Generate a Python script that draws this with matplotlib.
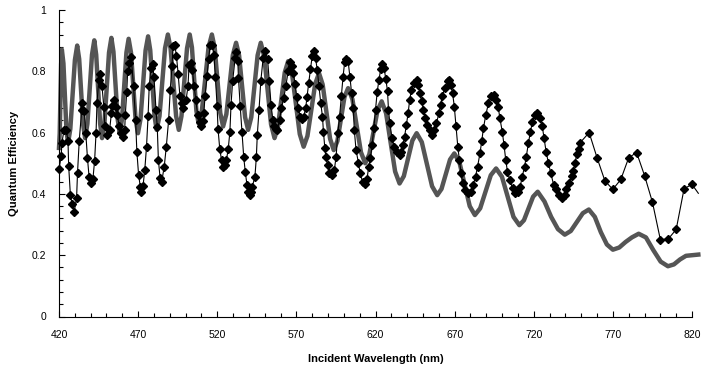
import matplotlib
matplotlib.use("Agg")
import matplotlib.pyplot as plt
from matplotlib.ticker import MultipleLocator

plt.rcParams['font.family'] = ['Liberation Sans', 'DejaVu Sans']

# black series with diamond markers (wavelength nm, quantum efficiency)
dia_wl = [420.0, 421.4, 421.8, 423.1, 424.6, 425.7, 426.1, 427.2, 428.3, 429.6,
          431.1, 431.7, 432.8, 434.3, 434.7, 436.0, 436.9, 438.0, 439.0, 440.3,
          441.4, 442.5, 443.4, 444.0, 445.1, 446.2, 447.2, 448.3, 449.0, 450.5,
          452.0, 453.1, 453.7, 454.8, 455.9, 456.9, 458.0, 459.3, 460.2, 461.5,
          461.9, 462.8, 463.4, 464.5, 465.6, 467.1, 468.4, 469.2, 470.3, 471.4,
          472.0, 473.1, 474.2, 475.3, 476.3, 477.0, 478.1, 479.1, 480.0, 481.3,
          482.1, 482.8, 483.9, 484.9, 486.5, 487.8, 489.3, 490.3, 491.4, 492.1,
          493.1, 494.2, 495.3, 496.4, 497.5, 498.5, 500.3, 501.5, 502.2, 503.3,
          504.3, 505.4, 506.5, 507.6, 508.9, 509.7, 510.8, 511.5, 512.3, 513.6,
          514.5, 515.6, 516.8, 517.9, 518.8, 519.9, 520.5, 521.6, 522.7, 523.7,
          524.8, 525.8, 526.9, 528.0, 528.7, 529.7, 531.3, 531.9, 533.0, 533.4,
          534.5, 535.6, 536.7, 537.7, 538.8, 539.7, 540.6, 541.4, 542.1, 543.8,
          544.7, 545.3, 546.4, 547.5, 549.0, 550.3, 551.8, 552.9, 554.0, 555.1,
          556.1, 557.0, 557.9, 559.4, 560.5, 562.0, 563.3, 564.8, 565.9, 567.0,
          568.1, 569.1, 570.2, 571.3, 572.4, 573.5, 574.6, 575.9, 576.7, 577.8,
          578.9, 580.0, 581.0, 582.1, 583.2, 584.3, 585.4, 586.5, 587.1, 588.0,
          588.6, 589.7, 590.8, 592.3, 594.0, 595.1, 596.2, 597.3, 598.4, 599.5,
          600.5, 601.6, 602.7, 603.8, 604.9, 606.0, 606.6, 607.7, 609.2, 610.3,
          611.8, 613.1, 614.6, 615.7, 616.8, 617.9, 618.9, 620.0, 621.1, 622.2,
          623.3, 624.4, 625.4, 626.5, 627.6, 628.2, 629.1, 630.4, 631.9, 633.4,
          635.2, 636.2, 637.3, 638.4, 639.5, 640.6, 641.6, 642.7, 644.2, 646.0,
          647.1, 648.1, 649.2, 650.3, 651.4, 652.5, 654.2, 655.7, 657.2, 658.5,
          660.1, 661.1, 662.2, 663.7, 665.5, 666.5, 667.6, 668.7, 669.8, 670.9,
          672.0, 673.0, 674.1, 675.2, 676.7, 678.5, 680.2, 681.7, 683.2, 684.5,
          686.0, 687.1, 688.2, 689.7, 691.4, 693.2, 694.7, 696.2, 697.5, 698.6,
          700.1, 701.2, 702.3, 703.4, 704.9, 706.6, 708.3, 709.8, 711.4, 712.7,
          714.2, 715.3, 716.6, 717.9, 719.2, 720.7, 722.2, 723.9, 725.4, 726.5,
          727.8, 729.3, 730.8, 732.6, 734.1, 735.9, 738.0, 739.6, 740.6, 742.4,
          743.9, 745.0, 746.1, 747.2, 748.3, 749.3, 755, 760, 765, 770,
          775, 780, 785, 790, 795, 800, 805, 810, 815, 820, 824]
dia_qe = [0.480, 0.524, 0.565, 0.607, 0.609, 0.571, 0.492, 0.396, 0.366, 0.342,
          0.385, 0.469, 0.574, 0.674, 0.698, 0.669, 0.600, 0.516, 0.456, 0.434,
          0.447, 0.508, 0.598, 0.696, 0.772, 0.792, 0.751, 0.685, 0.622, 0.592,
          0.609, 0.663, 0.687, 0.705, 0.685, 0.658, 0.620, 0.598, 0.585, 0.609,
          0.658, 0.734, 0.800, 0.827, 0.847, 0.751, 0.642, 0.538, 0.462, 0.423,
          0.407, 0.426, 0.478, 0.554, 0.655, 0.751, 0.811, 0.824, 0.783, 0.674,
          0.618, 0.511, 0.451, 0.440, 0.489, 0.554, 0.642, 0.740, 0.816, 0.882,
          0.887, 0.851, 0.791, 0.720, 0.696, 0.680, 0.707, 0.751, 0.822, 0.827,
          0.803, 0.751, 0.705, 0.658, 0.633, 0.620, 0.638, 0.663, 0.720, 0.786,
          0.840, 0.887, 0.887, 0.854, 0.783, 0.687, 0.611, 0.546, 0.511, 0.489,
          0.495, 0.511, 0.545, 0.603, 0.691, 0.767, 0.843, 0.863, 0.833, 0.778,
          0.687, 0.603, 0.522, 0.472, 0.429, 0.405, 0.396, 0.405, 0.423, 0.456,
          0.519, 0.592, 0.674, 0.767, 0.843, 0.865, 0.840, 0.767, 0.691, 0.642,
          0.620, 0.612, 0.609, 0.642, 0.680, 0.712, 0.751, 0.800, 0.829, 0.816,
          0.794, 0.759, 0.716, 0.680, 0.652, 0.644, 0.652, 0.680, 0.716, 0.762,
          0.807, 0.849, 0.865, 0.843, 0.805, 0.751, 0.696, 0.652, 0.603, 0.549,
          0.522, 0.494, 0.467, 0.462, 0.478, 0.522, 0.598, 0.652, 0.718, 0.783,
          0.829, 0.841, 0.833, 0.783, 0.729, 0.680, 0.609, 0.543, 0.502, 0.467,
          0.440, 0.432, 0.447, 0.489, 0.516, 0.560, 0.614, 0.674, 0.734, 0.773,
          0.807, 0.824, 0.811, 0.775, 0.735, 0.674, 0.631, 0.582, 0.554, 0.538,
          0.527, 0.538, 0.560, 0.587, 0.625, 0.663, 0.707, 0.740, 0.762, 0.773,
          0.756, 0.729, 0.702, 0.674, 0.647, 0.625, 0.609, 0.592, 0.609, 0.631,
          0.663, 0.691, 0.718, 0.745, 0.767, 0.770, 0.756, 0.729, 0.685, 0.620,
          0.554, 0.511, 0.467, 0.434, 0.412, 0.402, 0.407, 0.429, 0.456, 0.489,
          0.532, 0.571, 0.614, 0.658, 0.696, 0.718, 0.723, 0.707, 0.685, 0.647,
          0.603, 0.560, 0.511, 0.472, 0.445, 0.418, 0.402, 0.407, 0.423, 0.456,
          0.489, 0.522, 0.565, 0.603, 0.636, 0.658, 0.663, 0.647, 0.620, 0.582,
          0.538, 0.500, 0.467, 0.429, 0.415, 0.398, 0.387, 0.398, 0.415, 0.436,
          0.458, 0.475, 0.502, 0.529, 0.546, 0.567, 0.600, 0.518, 0.442, 0.415,
          0.447, 0.518, 0.535, 0.460, 0.373, 0.251, 0.253, 0.284, 0.417, 0.431, 0.402]

# grey series (thick line, no markers)
grey_wl = [420.0, 420.45, 420.9, 421.35, 421.8, 422.8, 423.75, 424.7, 425.7,
           427.15, 428.6, 430.05, 431.5, 432.75, 434.0, 435.25, 436.5,
           437.95, 439.4, 440.85, 442.3, 443.5, 444.75, 446.0, 447.2,
           448.7, 450.15, 451.6, 453.1, 454.4, 455.75, 457.1, 458.4,
           459.8, 461.2, 462.6, 464.0, 465.5, 466.95, 468.4, 469.9,
           471.5, 473.1, 474.7, 476.3, 477.65, 479.0, 480.35, 481.7,
           483.5, 485.25, 487.0, 488.8, 490.5, 492.25, 494.0, 495.7,
           497.4, 499.15, 500.9, 502.6, 504.0, 505.4, 506.8, 508.2,
           510.3, 512.4, 514.5, 516.6, 518.4, 520.15, 521.9, 523.7,
           525.75, 527.8, 529.85, 531.9, 533.8, 535.7, 537.6, 539.5,
           541.5, 543.5, 545.5, 547.5, 549.7, 551.85, 554.0, 556.2,
           558.35, 560.5, 562.65, 564.8, 567.25, 569.7, 572.15, 574.6,
           577.0, 579.45, 581.9, 584.3, 586.6, 588.95, 591.3, 593.6,
           595.9, 598.15, 600.4, 602.7, 605.4, 608.1, 610.8, 613.5,
           616.1, 618.7, 621.3, 623.9, 626.7, 629.55, 632.4, 635.2,
           637.9, 640.6, 643.3, 646.0, 649.25, 652.5, 655.75, 659.0,
           661.7, 664.4, 667.1, 669.8, 673.05, 676.3, 679.55, 682.8,
           686.15, 689.5, 692.85, 696.2, 699.9, 703.55, 707.2, 710.9,
           713.8, 716.7, 719.6, 722.5, 726.8, 731.0, 735.3, 739.6,
           743.4, 747.2, 751.0, 754.8, 758.6, 762.4, 766.2, 770.0,
           774.0, 778.0, 782.0, 786.3, 790.9, 795.5, 800.2, 804.8,
           808.6, 812.4, 816.2, 820.0, 824.0]
grey_qe = [0.550, 0.597, 0.711, 0.824, 0.871, 0.826, 0.718, 0.610, 0.565,
           0.612, 0.725, 0.837, 0.884, 0.840, 0.733, 0.626, 0.582,
           0.629, 0.742, 0.854, 0.901, 0.854, 0.742, 0.629, 0.582,
           0.630, 0.746, 0.861, 0.909, 0.864, 0.754, 0.643, 0.598,
           0.643, 0.752, 0.861, 0.906, 0.861, 0.752, 0.643, 0.598,
           0.644, 0.756, 0.868, 0.914, 0.869, 0.762, 0.654, 0.609,
           0.654, 0.765, 0.875, 0.920, 0.875, 0.765, 0.654, 0.609,
           0.654, 0.765, 0.875, 0.920, 0.878, 0.775, 0.672, 0.630,
           0.672, 0.775, 0.878, 0.920, 0.876, 0.770, 0.664, 0.620,
           0.660, 0.757, 0.853, 0.893, 0.852, 0.751, 0.650, 0.609,
           0.650, 0.751, 0.852, 0.893, 0.848, 0.738, 0.627, 0.582,
           0.619, 0.708, 0.796, 0.833, 0.792, 0.694, 0.595, 0.554,
           0.589, 0.674, 0.759, 0.794, 0.757, 0.669, 0.580, 0.543,
           0.572, 0.644, 0.716, 0.745, 0.709, 0.623, 0.536, 0.500,
           0.529, 0.601, 0.673, 0.702, 0.663, 0.568, 0.473, 0.434,
           0.458, 0.516, 0.574, 0.598, 0.569, 0.497, 0.425, 0.396,
           0.416, 0.464, 0.512, 0.532, 0.503, 0.432, 0.360, 0.331,
           0.353, 0.407, 0.461, 0.483, 0.456, 0.391, 0.325, 0.298,
           0.314, 0.353, 0.391, 0.407, 0.375, 0.325, 0.285, 0.267,
           0.279, 0.308, 0.337, 0.349, 0.325, 0.275, 0.235, 0.218,
           0.225, 0.243, 0.258, 0.270, 0.258, 0.217, 0.179, 0.164,
           0.170, 0.186, 0.198, 0.200, 0.202]

x_ticks = [420, 470, 520, 570, 620, 670, 720, 770, 820]
y_ticks = [0, 0.2, 0.4, 0.6, 0.8, 1.0]
y_labels = ['0', '0.2', '0.4', '0.6', '0.8', '1']

fig = plt.figure(figsize=(7.04, 3.72), dpi=100)
ax = fig.add_axes([59 / 704, 55.5 / 372, 633 / 704, 306.5 / 372])

ax.plot(grey_wl, grey_qe, color='#555555', linewidth=3.2, solid_joinstyle='round',
        zorder=2, clip_on=False)
# the last point lies just past the axis end: line only, no marker
ax.plot(dia_wl, dia_qe, color='black', linewidth=0.8, marker='D', markersize=4.0,
        markevery=slice(0, len(dia_wl) - 1),
        markerfacecolor='black', markeredgecolor='black', zorder=3, clip_on=False)

ax.set_xlim(420, 820)
ax.set_ylim(0, 1)
ax.set_xticks(x_ticks)
ax.xaxis.set_minor_locator(MultipleLocator(10))
ax.set_yticks(y_ticks)
ax.set_yticklabels(y_labels)
ax.yaxis.set_minor_locator(MultipleLocator(0.04))

ax.spines['top'].set_visible(False)
ax.spines['right'].set_visible(False)
ax.spines['left'].set_linewidth(0.8)
ax.spines['bottom'].set_linewidth(0.8)
ax.tick_params(which='major', direction='in', length=4, width=0.8, labelsize=7.5)
ax.tick_params(axis='x', which='major', pad=10)
ax.tick_params(axis='y', which='major', pad=9)
ax.tick_params(which='minor', direction='in', length=3, width=0.8)

ax.set_xlabel('Incident Wavelength (nm)', fontsize=8, fontweight='bold', labelpad=10)
ax.set_ylabel('Quantum Efficiency', fontsize=8, fontweight='bold', labelpad=9)

fig.savefig('out.png', dpi=100)
